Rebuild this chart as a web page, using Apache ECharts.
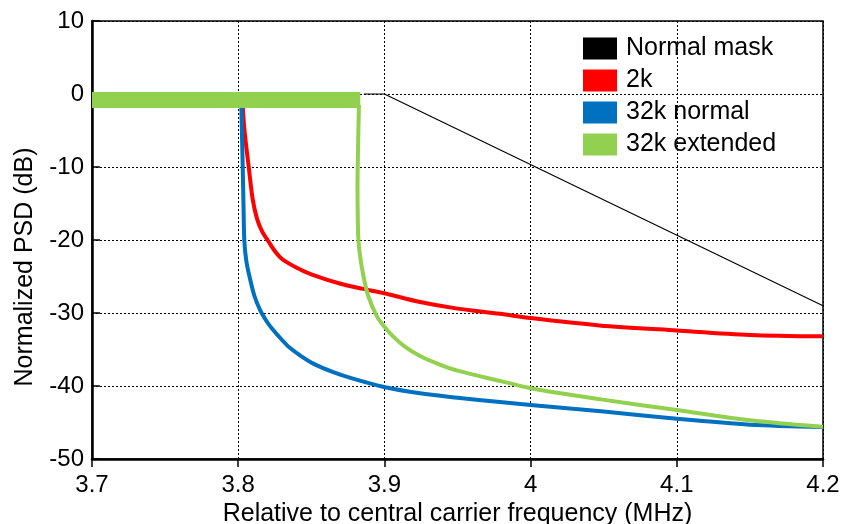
<!DOCTYPE html>
<html>
<head>
<meta charset="utf-8">
<script src="https://cdn.jsdelivr.net/npm/echarts@6/dist/echarts.min.js"></script>
<style>
  html, body { margin: 0; padding: 0; background: #fff; }
  #chart { width: 842px; height: 524px; }
</style>
</head>
<body>
<div id="chart"></div>
<script>
const FONT = 'Liberation Sans, Arial, sans-serif'

// [frequency MHz, dB]
const maskData = [[3.886, 0], [3.9, 0], [4.2, -29.0]]

const data2k = [
  [3.8030, -1.5], [3.8044, -5.2], [3.8072, -10], [3.8099, -14.4],
  [3.8129, -17.1], [3.8165, -18.9], [3.8204, -20.1], [3.8250, -21.5],
  [3.8300, -22.6], [3.8400, -23.8], [3.8500, -24.7], [3.8700, -26.0],
  [3.8856, -26.7], [3.9000, -27.3], [3.9244, -28.5], [3.9500, -29.4],
  [3.9790, -30.1], [4.0000, -30.7], [4.0470, -31.7], [4.1000, -32.4],
  [4.1500, -33.0], [4.2000, -33.2]
]

const data32kNormal = [
  [3.8021, -1.5], [3.8031, -10], [3.8036, -15], [3.8042, -20.1],
  [3.8055, -22.8], [3.8076, -24.9], [3.8110, -27.6], [3.8150, -29.6],
  [3.8200, -31.3], [3.8238, -32.3], [3.8300, -33.7], [3.8349, -34.7],
  [3.8430, -35.9], [3.8520, -37.0], [3.8650, -38.1], [3.8785, -39.0],
  [3.8990, -40.1], [3.9243, -41.0], [3.9500, -41.6], [3.9790, -42.2],
  [4.0000, -42.6], [4.0500, -43.5], [4.1000, -44.5], [4.1500, -45.3],
  [4.2000, -45.6]
]

const data32kExtBand = [[3.7, -0.82], [3.8835, -0.82]]

const data32kExt = [
  [3.8826, -1.5], [3.8820, -7], [3.8816, -13], [3.8818, -17], [3.8822, -19.9],
  [3.8833, -22.1], [3.8856, -24.9], [3.8890, -27.7], [3.8947, -30.4],
  [3.9000, -31.9], [3.9059, -33.2], [3.9140, -34.6], [3.9244, -35.9],
  [3.9370, -37.0], [3.9500, -37.9], [3.9790, -39.3], [4.0000, -40.3],
  [4.0470, -41.8], [4.1000, -43.3], [4.1500, -44.7], [4.2000, -45.6]
]

const seriesNames = ['Normal mask', '2k', '32k normal', '32k extended']
const seriesColors = ['#000000', '#ff0000', '#0070c0', '#92d050']

const chart = echarts.init(document.getElementById('chart'))

const lineSeries = (name, data, color, width, smooth) => ({
  name: name,
  type: 'line',
  data: data,
  showSymbol: false,
  symbol: 'none',
  smooth: smooth,
  color: color,
  lineStyle: { color: color, width: width, cap: 'butt', join: 'round' },
  animation: false,
})

chart.setOption({
  backgroundColor: '#fff',
  animation: false,
  grid: {
    left: 92, right: 19, top: 21, bottom: 65,
    outerBoundsMode: 'none',
    containLabel: false,
    show: true, borderColor: '#000', borderWidth: 1.5,
  },
  legend: {
    data: seriesNames,
    orient: 'vertical',
    left: 583, top: 36,
    padding: 0,
    icon: 'rect',
    itemWidth: 34, itemHeight: 22, itemGap: 7,
    textStyle: { fontFamily: FONT, fontSize: 25, color: '#000', padding: [0, 0, 0, 4] },
  },
  xAxis: {
    type: 'value',
    min: 3.7, max: 4.2, interval: 0.1,
    name: 'Relative to central carrier frequency (MHz)',
    nameLocation: 'middle',
    nameGap: 37,
    nameTextStyle: { fontFamily: FONT, fontSize: 25, color: '#000' },
    axisLine: { show: true, onZero: false, lineStyle: { color: '#000', width: 2.5 } },
    axisTick: { show: true, inside: false, length: 8, lineStyle: { color: '#000', width: 1.5 } },
    axisLabel: { fontFamily: FONT, fontSize: 24, color: '#000', margin: 14 },
    splitLine: { show: true, lineStyle: { color: '#000', width: 1, type: [2, 2] } },
  },
  yAxis: {
    type: 'value',
    min: -50, max: 10, interval: 10,
    name: 'Normalized PSD (dB)',
    nameLocation: 'middle',
    nameGap: 54,
    nameRotate: 90,
    nameTextStyle: { fontFamily: FONT, fontSize: 25, color: '#000', padding: [0, 54, 0, 0] },
    axisLine: { show: true, onZero: false, lineStyle: { color: '#000', width: 2.5 } },
    axisTick: { show: true, inside: true, length: 8, lineStyle: { color: '#000', width: 1.5 } },
    axisLabel: { fontFamily: FONT, fontSize: 24, color: '#000', margin: 8 },
    splitLine: { show: true, lineStyle: { color: '#000', width: 1, type: [2, 2] } },
  },
  series: [
    lineSeries(seriesNames[0], maskData, seriesColors[0], 1.2, false),
    lineSeries(seriesNames[1], data2k, seriesColors[1], 4, 0.3),
    lineSeries(seriesNames[2], data32kNormal, seriesColors[2], 4, 0.3),
    lineSeries(seriesNames[3], data32kExt, seriesColors[3], 4, 0.3),
    lineSeries(seriesNames[3], data32kExtBand, seriesColors[3], 16, false),
  ],
})
</script>
</body>
</html>
